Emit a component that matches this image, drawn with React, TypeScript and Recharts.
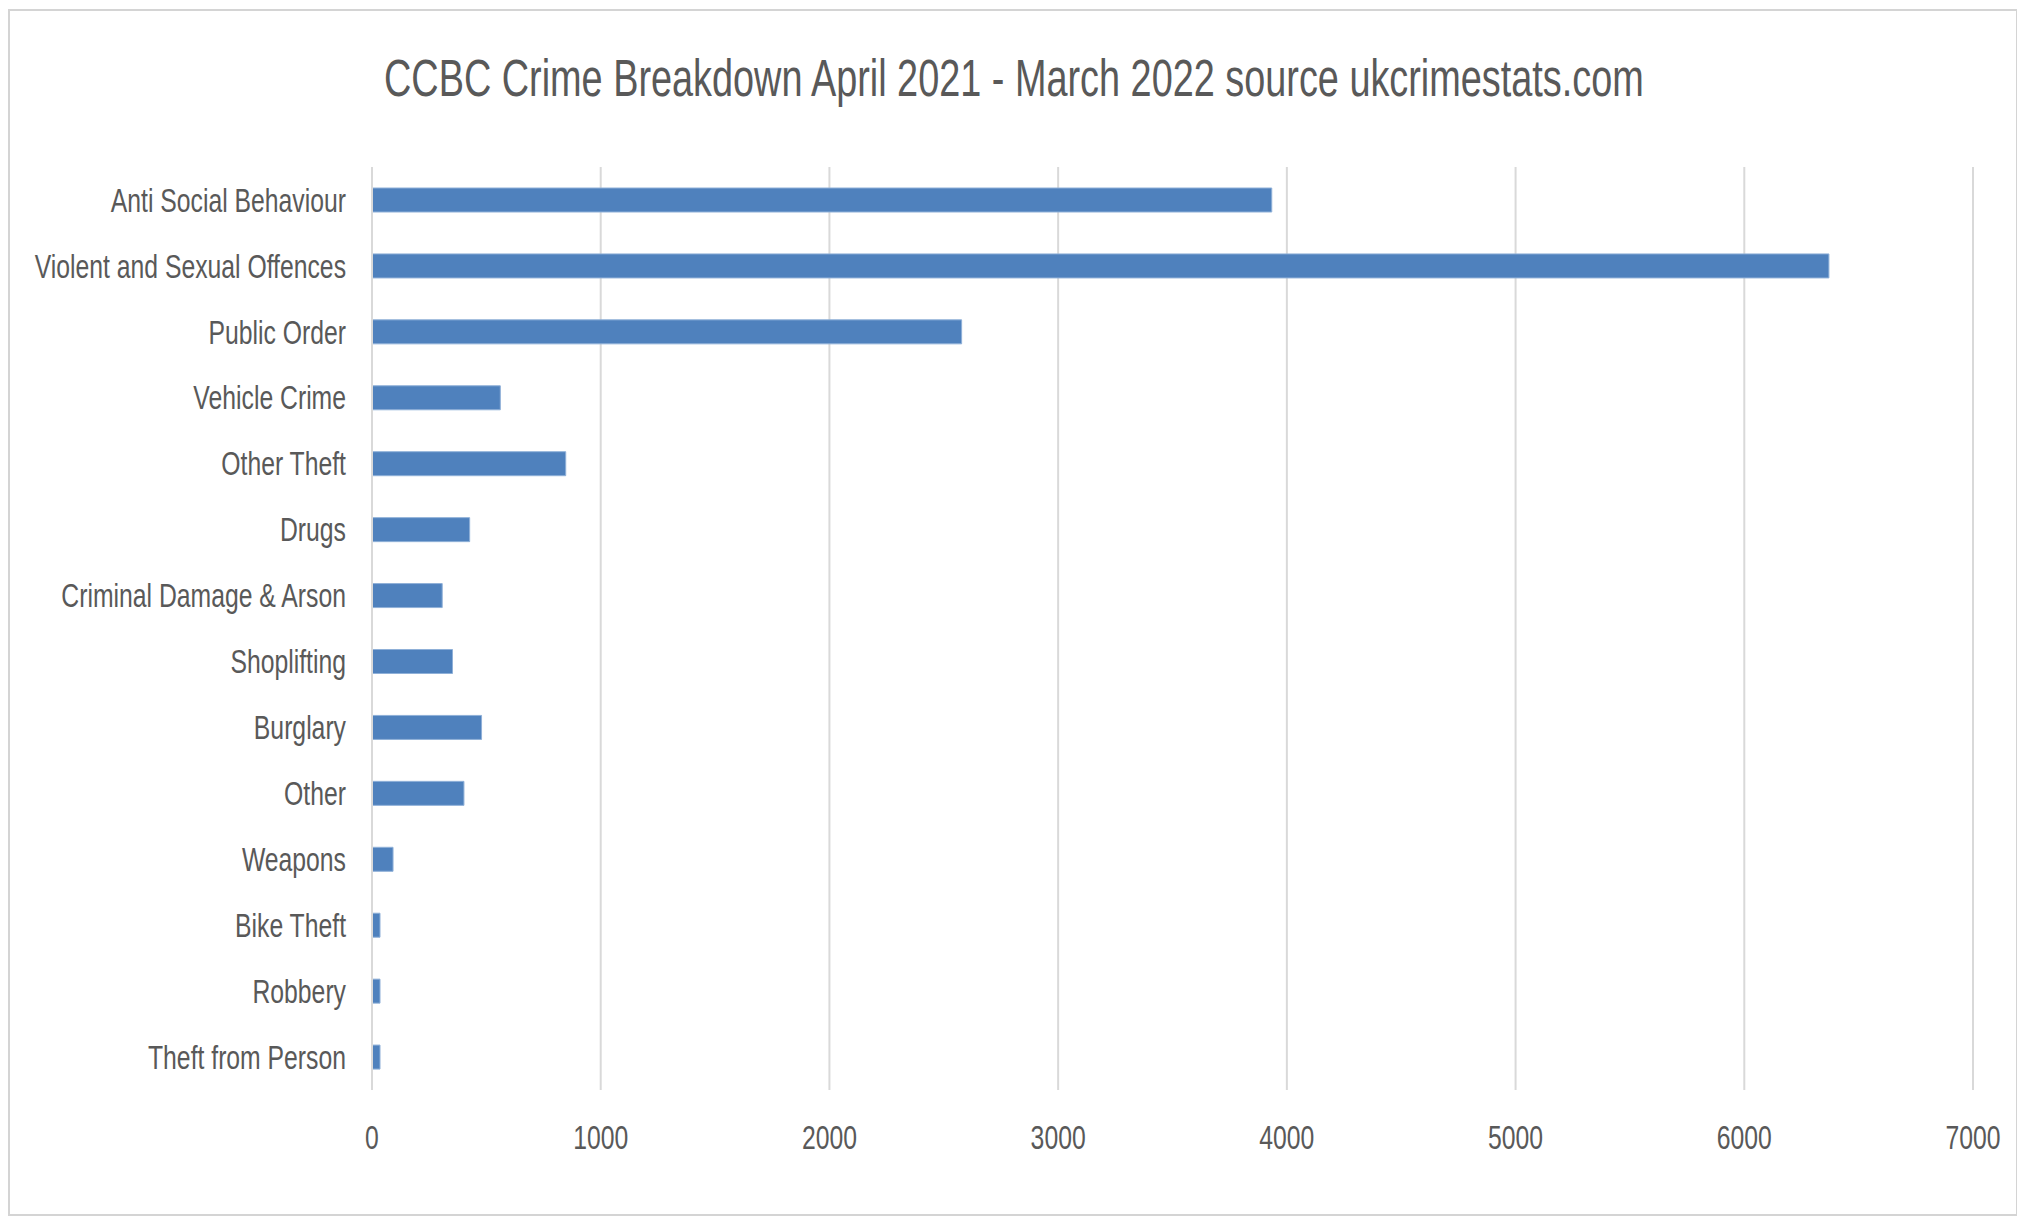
import React from "react";
import {
  BarChart,
  Bar,
  XAxis,
  YAxis,
  CartesianGrid,
} from "recharts";

const categories = [
  "Anti Social Behaviour",
  "Violent and Sexual Offences",
  "Public Order",
  "Vehicle Crime",
  "Other Theft",
  "Drugs",
  "Criminal Damage & Arson",
  "Shoplifting",
  "Burglary",
  "Other",
  "Weapons",
  "Bike Theft",
  "Robbery",
  "Theft from Person",
];

const crimeCounts = [3934, 6370, 2578, 561, 847, 427, 307, 352, 479, 402, 92, 35, 35, 35];

const xTicks = [0, 1000, 2000, 3000, 4000, 5000, 6000, 7000];

const data = categories.map((name, i) => ({ name, value: crimeCounts[i] }));

const FONT = "'Liberation Sans', Arial, sans-serif";
const TEXT_COLOR = "#595959";
const GRID_COLOR = "#d9d9d9";
// the original uses a condensed face, so squeeze the text horizontally
const SQUEEZE = 0.75;

// narrow tick label, scaled around its anchor point
const NarrowTick = (props: any) => {
  const { x, y, payload, textAnchor, dy } = props;
  return (
    <g transform={`translate(${x},${y}) scale(${SQUEEZE},1)`}>
      <text
        x={0}
        y={0}
        dy={dy}
        textAnchor={textAnchor}
        fill={TEXT_COLOR}
        fontSize={33}
        fontFamily={FONT}
      >
        {payload.value}
      </text>
    </g>
  );
};

const CategoryTick = (props: any) => <NarrowTick {...props} textAnchor="end" dy="0.355em" />;
const ValueTick = (props: any) => <NarrowTick {...props} textAnchor="middle" dy="0.71em" />;

const App: React.FC = () => {
  return (
    <div style={{ position: "absolute", left: 0, top: 0, width: 2017, height: 1218, background: "#fff" }}>
      {/* chart frame */}
      <div
        style={{
          position: "absolute",
          left: 8,
          top: 9,
          width: 2006,
          height: 1203,
          border: "2px solid #d4d4d4",
        }}
      />
      {/* title */}
      <div
        style={{
          position: "absolute",
          left: 0,
          top: 49,
          width: 2017,
          paddingLeft: 10,
          boxSizing: "border-box",
          textAlign: "center",
          fontFamily: FONT,
          fontSize: 51,
          lineHeight: "60px",
          color: TEXT_COLOR,
          whiteSpace: "nowrap",
          transform: "scaleX(0.742)",
          transformOrigin: "1015px 0",
        }}
      >
        CCBC Crime Breakdown April 2021 - March 2022 source ukcrimestats.com
      </div>
      <BarChart
        width={2017}
        height={1218}
        data={data}
        layout="vertical"
        margin={{ top: 167, right: 44, bottom: 68, left: 0 }}
        barSize={24}
        style={{ position: "absolute", left: 0, top: 0 }}
      >
        <CartesianGrid horizontal={false} stroke={GRID_COLOR} strokeWidth={2} />
        <XAxis
          type="number"
          domain={[0, 7000]}
          ticks={xTicks}
          axisLine={false}
          tickLine={false}
          tickMargin={30}
          height={60}
          tick={ValueTick}
        />
        <YAxis
          type="category"
          dataKey="name"
          width={372}
          axisLine={{ stroke: GRID_COLOR, strokeWidth: 2 }}
          tickLine={false}
          tickMargin={20}
          interval={0}
          tick={CategoryTick}
        />
        <Bar
          dataKey="value"
          fill="#4F81BD"
          stroke="#8fb0d8"
          strokeWidth={1}
          isAnimationActive={false}
        />
      </BarChart>
    </div>
  );
};

export default App;
